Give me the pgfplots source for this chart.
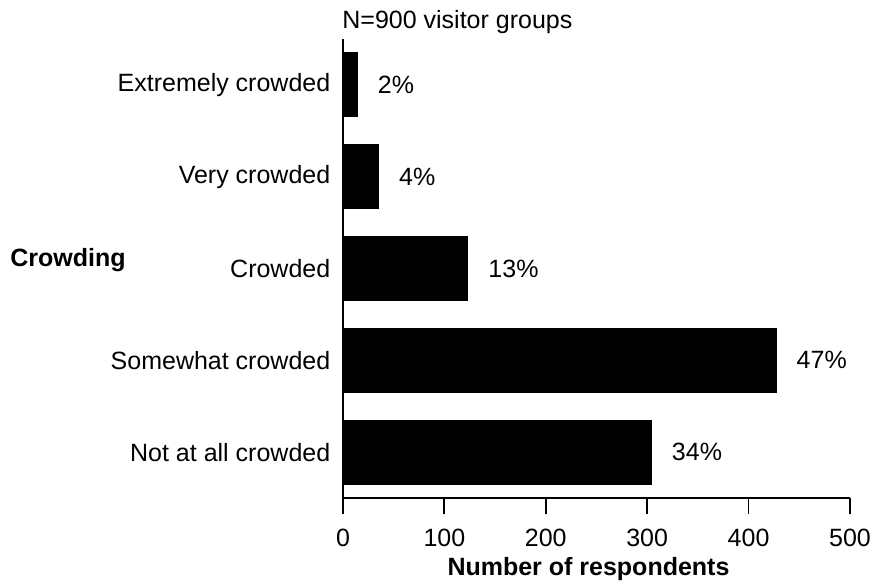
\documentclass[border=0pt]{standalone}
\usepackage{fontspec}
\setmainfont{Liberation Sans}
\usepackage{pgfplots}
\pgfplotsset{compat=1.18}
\begin{document}
\fontsize{12.5}{15}\selectfont
\begin{tikzpicture}
\useasboundingbox (0,0) rectangle (437pt,290.5pt);
\begin{axis}[
  at={(171.5pt,41.5pt)}, anchor=south west,
  scale only axis, width=253.5pt, height=229.5pt,
  xbar, bar width=32pt,
  xmin=0, xmax=500, ymin=-0.5, ymax=4.5,
  axis lines*=left,
  axis line style={line width=0.9pt},
  xtick={0,100,200,300,400,500},
  ytick={0,1,2,3,4},
  yticklabels={Not at all crowded,Somewhat crowded,Crowded,Very crowded,Extremely crowded},
  tick align=outside,
  x tick style={line width=0.9pt, black},
  major tick length=8pt,
  y tick style={draw=none},
  yticklabel style={xshift=6pt, font=\fontsize{12.5}{15}\selectfont},
  xticklabel style={yshift=-3pt, font=\fontsize{12.5}{15}\selectfont},
  /pgf/number format/assume math mode=true,
  xlabel={\textbf{Number of respondents}},
  xlabel style={font=\fontsize{12.5}{15}\selectfont, yshift=3pt, xshift=-4pt},
  nodes near coords,
  point meta=explicit symbolic,
  every node near coord/.append style={anchor=west, xshift=6pt, black, font=\fontsize{12.5}{15}\selectfont},
  clip=false,
]
\addplot[fill=black, draw=black] coordinates {
  (304,0) [34\%]
  (427,1) [47\%]
  (123,2) [13\%]
  (35,3) [4\%]
  (14,4) [2\%]
};
\end{axis}
\node[anchor=west, inner sep=0pt] at (5pt,160.5pt) {\textbf{Crowding}};
\node[anchor=west, inner sep=0pt] at (171pt,279.5pt) {N=900 visitor groups};
\end{tikzpicture}
\end{document}
